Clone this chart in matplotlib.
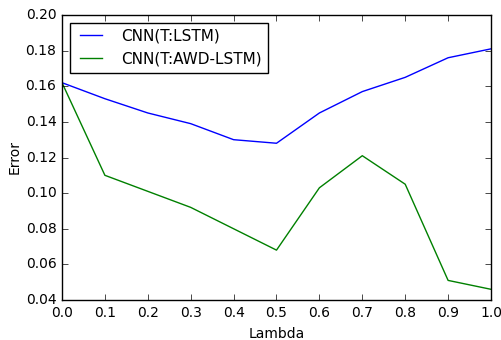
import matplotlib
matplotlib.use("Agg")
import matplotlib.pyplot as plt

plt.style.use('classic')

lam = [0.0, 0.1, 0.2, 0.3, 0.4, 0.5, 0.6, 0.7, 0.8, 0.9, 1.0]
lstm = [0.162, 0.153, 0.145, 0.139, 0.130, 0.128, 0.145, 0.157, 0.165, 0.176, 0.181]
awd = [0.162, 0.110, 0.101, 0.092, 0.080, 0.068, 0.103, 0.121, 0.105, 0.051, 0.046]
labels = ['CNN(T:LSTM)', 'CNN(T:AWD-LSTM)']

fig = plt.figure(figsize=(5.02, 3.40), dpi=100)
ax = fig.add_axes([62/502, 40/340, 429/502, 285/340])
ax.plot(lam, lstm, color='b', label=labels[0])
ax.plot(lam, awd, color='g', label=labels[1])
ax.set_xlim(0, 1)
ax.set_ylim(0.04, 0.20)
ax.set_xticks([i/10 for i in range(11)])
ax.set_xlabel('Lambda', fontsize=10)
ax.set_ylabel('Error', fontsize=10, labelpad=3)
ax.tick_params(labelsize=10)
ax.legend(loc='upper left', fontsize=11, handletextpad=1.0)
fig.savefig('out.png', dpi=100, facecolor='white')
